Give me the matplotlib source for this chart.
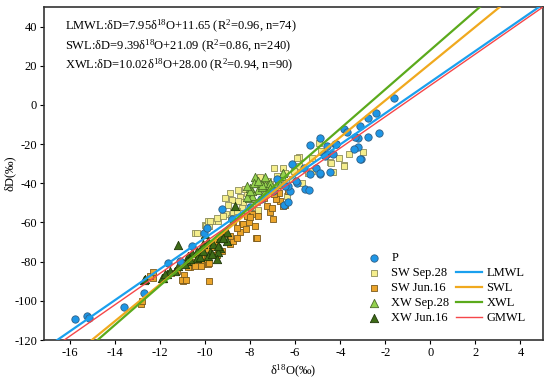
import matplotlib
matplotlib.use('Agg')
import matplotlib.pyplot as plt
import numpy as np
from matplotlib.lines import Line2D

plt.rcParams.update({
    'font.family': ['Liberation Serif', 'DejaVu Serif'],
    'mathtext.fontset': 'custom',
    'mathtext.rm': 'Liberation Serif',
    'mathtext.it': 'Liberation Serif:italic',
    'axes.unicode_minus': False,
    'font.size': 9,
})

# 大气降水 P
p_o18 = [-15.78, -15.26, -15.14, -13.6, -12.71, -11.66, -11.1, -10.03, -9.26, -10.6,
         -9.9, -8.8, -8.0, -7.5, -7.0, -6.49, -6.3, -6.22, -6.3, -5.93,
         -5.56, -5.38, -6.44, -6.81, -6.15, -5.63, -5.07, -4.47, -4.89, -5.33,
         -4.74, -4.59, -5.33, -4.92, -4.18, -3.19, -3.19, -3.1, -1.63, -2.4,
         -2.79, -3.14, -3.85, -3.7, -2.3, -2.79, -3.33, -4.22, -4.59, -3.41,
         -4.33, -4.67, -4.89, -5.97, -4.19, -3.11]
p_d = [-109.5, -107.6, -108.6, -103.0, -95.8, -80.8, -79.6, -65.5, -53.2, -72.0,
       -63.0, -58.0, -52.0, -48.0, -44.0, -51.0, -49.8, -43.9, -41.3, -39.6,
       -43.0, -43.5, -41.3, -37.9, -30.3, -32.0, -32.0, -34.2, -35.4, -35.4,
       -25.2, -25.2, -20.4, -17.0, -20.0, -17.0, -21.4, -27.7, 3.4, -4.2,
       -6.8, -10.7, -12.4, -13.6, -14.1, -16.2, -16.3, -20.0, -20.9, -22.6,
       -25.2, -26.0, -34.5, -39.0, -19.7, -27.7]

# 土壤水 9月28日
sw_sep_o18 = [-8.52, -8.89, -9.11, -8.44, -8.15, -8.81, -8.37, -9.07, -8.74, -8.86,
              -9.41, -9.7, -10.0, -9.81, -10.44, -7.63, -7.9, -7.7, -7.48, -6.89,
              -6.37, -6.3, -9.97, -9.85, -8.22, -8.0, -8.3, -7.63, -6.96, -6.52,
              -6.44, -5.85, -5.81, -5.45, -5.26, -5.7, -4.96, -4.44, -4.37, -3.85,
              -4.07, -3.63, -8.59, -7.26, -7.33, -7.11, -7.48, -6.81, -6.15, -6.07,
              -2.99, -4.41, -3.82, -4.34, -4.81, -5.93, -5.26, -4.86, -7.19, -6.67,
              -7.56, -7.93, -9.78, -9.48, -9.21, -10.37, -8.52, -9.0, -6.7]
sw_sep_d = [-43.5, -44.7, -47.6, -46.9, -44.7, -48.6, -52.0, -55.8, -54.6, -57.5,
            -59.2, -59.2, -61.4, -61.7, -65.5, -54.0, -52.7, -49.3, -48.1, -42.5,
            -46.4, -43.5, -61.7, -59.2, -43.0, -46.9, -49.8, -53.7, -32.0, -32.0,
            -34.5, -26.5, -31.1, -34.5, -33.7, -39.6, -19.5, -28.9, -34.0, -30.8,
            -26.9, -24.8, -54.0, -39.1, -41.3, -40.5, -38.8, -36.2, -37.9, -33.7,
            -23.8, -29.4, -31.1, -34.2, -24.0, -26.9, -26.9, -23.5, -38.8, -38.8,
            -37.0, -52.3, -59.2, -57.5, -56.6, -65.5, -49.0, -51.0, -40.0]

# 土壤水 6月16日
sw_jun_o18 = [-12.86, -12.78, -12.3, -11.0, -10.87, -10.92, -9.82, -10.07, -9.85, -10.37,
              -10.67, -9.63, -9.41, -8.89, -10.0, -10.16, -11.04, -10.84, -12.44, -12.3,
              -10.74, -10.52, -10.3, -9.93, -9.85, -10.44, -9.81, -9.48, -9.26, -7.73,
              -8.74, -8.44, -8.37, -8.07, -7.93, -8.15, -7.14, -7.0, -7.26, -7.04,
              -6.44, -6.67, -8.59, -8.89, -8.59, -8.74, -11.26, -6.84, -6.52, -6.74,
              -6.3, -6.96, -7.38, -8.0, -8.3, -7.63, -7.7, -9.5, -9.1, -8.2,
              -10.2, -9.6, -7.8, -11.5]
sw_jun_d = [-101.7, -100.0, -88.1, -89.8, -89.4, -86.9, -90.1, -81.3, -81.3, -81.3,
            -82.7, -76.5, -74.5, -71.1, -78.2, -82.1, -89.4, -89.4, -87.2, -85.5,
            -82.5, -80.1, -78.7, -78.7, -73.6, -82.1, -80.9, -76.5, -74.8, -68.0,
            -69.4, -65.1, -60.9, -60.0, -55.8, -56.6, -54.4, -58.0, -51.5, -52.4,
            -51.0, -49.0, -67.7, -66.8, -62.6, -59.2, -84.7, -48.1, -51.5, -44.7,
            -43.9, -45.6, -47.6, -57.1, -60.9, -56.6, -67.7, -70.0, -66.0, -63.5,
            -75.0, -72.5, -62.0, -86.0]

# XW 9月28日
xw_sep_o18 = [-7.78, -7.41, -7.19, -7.63, -7.93, -8.07, -7.33, -7.04, -6.81, -7.93,
              -7.48, -7.33, -7.11, -7.63, -8.15, -8.0, -6.67, -7.82, -7.48, -8.0,
              -7.11, -6.59, -6.52, -7.33, -7.63, -8.15]
xw_sep_d = [-36.7, -41.3, -40.5, -43.5, -43.9, -47.3, -43.9, -43.0, -39.6, -46.4,
            -41.8, -40.8, -40.1, -39.6, -46.9, -42.2, -40.5, -39.6, -40.8, -43.9,
            -42.2, -36.2, -34.5, -37.0, -38.8, -41.3]

# XW 6月16日
xw_jun_o18 = [-11.21, -12.71, -11.85, -11.7, -11.56, -12.67, -11.93, -11.78, -11.33, -11.19,
              -10.74, -10.59, -10.37, -10.07, -9.85, -10.81, -10.37, -10.0, -9.01, -9.33,
              -9.04, -8.67, -9.33, -9.41, -9.78, -9.85, -10.22, -10.67, -10.89, -9.63,
              -10.07, -9.41, -9.7, -9.48, -9.2]
xw_jun_d = [-71.4, -89.3, -88.1, -86.4, -84.7, -88.9, -88.4, -86.4, -85.0, -82.1,
            -77.0, -75.4, -74.5, -71.1, -69.4, -79.6, -77.9, -65.7, -65.1, -67.7,
            -69.4, -51.5, -72.8, -75.3, -75.3, -77.0, -77.6, -78.7, -81.3, -71.1,
            -74.5, -71.9, -76.2, -78.7, -68.0]

# 回归线 (斜率, 截距)
line_names = ['LMWL', 'SWL', 'XWL', 'GMWL']
line_slopes = [7.95, 9.39, 10.02, 8.0]
line_intercepts = [11.65, 21.09, 28.00, 10.0]
line_colors = ['#1AA0EE', '#F0A91E', '#5BAA1C', '#F5474A']
line_widths = [1.6, 1.6, 1.6, 1.0]

eq_texts = [
    'LMWL:δD=7.95δ$^{18}$O+11.65 (R$^{2}$=0.96, n=74)',
    'SWL:δD=9.39δ$^{18}$O+21.09 (R$^{2}$=0.86, n=240)',
    'XWL:δD=10.02δ$^{18}$O+28.00 (R$^{2}$=0.94, n=90)',
]

fig = plt.figure(figsize=(5.5, 3.82), dpi=100)
ax = fig.add_axes([44/550, 42/382, 499/550, 333/382])

ax.scatter(sw_sep_o18, sw_sep_d, marker='s', s=20, c='#F5EE8C', edgecolors='#8C8C5A', linewidths=0.6, label='SW Sep.28', zorder=2)
ax.scatter(sw_jun_o18, sw_jun_d, marker='s', s=20, c='#EBA42A', edgecolors='#7A5A1E', linewidths=0.6, label='SW Jun.16', zorder=2)
ax.scatter(xw_sep_o18, xw_sep_d, marker='^', s=36, c='#94D24E', edgecolors='#4A6A28', linewidths=0.6, label='XW Sep.28', zorder=3)
ax.scatter(xw_jun_o18, xw_jun_d, marker='^', s=36, c='#3E6B17', edgecolors='#20380A', linewidths=0.6, label='XW Jun.16', zorder=3)
ax.scatter(p_o18, p_d, marker='o', s=28, c='#1E96E6', edgecolors='#2F5F85', linewidths=0.6, label='P', zorder=4)

xlim = (-17.15, 5.0)
xx = np.array(xlim)
for name, k, b, col, lw in zip(line_names, line_slopes, line_intercepts, line_colors, line_widths):
    ax.plot(xx, k * xx + b, color=col, lw=lw, label=name, zorder=5)

ax.set_xlim(*xlim)
ax.set_ylim(-120, 50)
ax.set_xticks(np.arange(-16, 5, 2))
ax.set_yticks(np.arange(-120, 41, 20))
ax.tick_params(direction='out', length=3, width=0.8, labelsize=9, pad=2)
for sp in ax.spines.values():
    sp.set_linewidth(1.2)
    sp.set_color('#333333')

ax.set_xlabel('δ$^{18}$O(‰)', fontsize=9, labelpad=3)
ax.set_ylabel('δD(‰)', fontsize=9, labelpad=-1)

for i, t in enumerate(eq_texts):
    ax.text(0.042, 0.94 - i * 0.0585, t, transform=ax.transAxes, fontsize=9, va='center', ha='left')

# 图例：左列为散点，右列为回归线（底部对齐）
h, l = ax.get_legend_handles_labels()
hd = dict(zip(l, h))
blank = Line2D([], [], linestyle='none', marker=None)
handles = [hd['P'], hd['SW Sep.28'], hd['SW Jun.16'], hd['XW Sep.28'], hd['XW Jun.16'],
           blank, hd['LMWL'], hd['SWL'], hd['XWL'], hd['GMWL']]
labels = ['P', 'SW Sep.28', 'SW Jun.16', 'XW Sep.28', 'XW Jun.16',
          '', 'LMWL', 'SWL', 'XWL', 'GMWL']
ax.legend(handles, labels, ncol=2, loc='lower right', bbox_to_anchor=(0.985, 0.017),
          frameon=False, fontsize=9, handlelength=2.1, handletextpad=0.35,
          columnspacing=0.5, labelspacing=0.24, borderpad=0.3)

fig.savefig('out.png', dpi=100)
